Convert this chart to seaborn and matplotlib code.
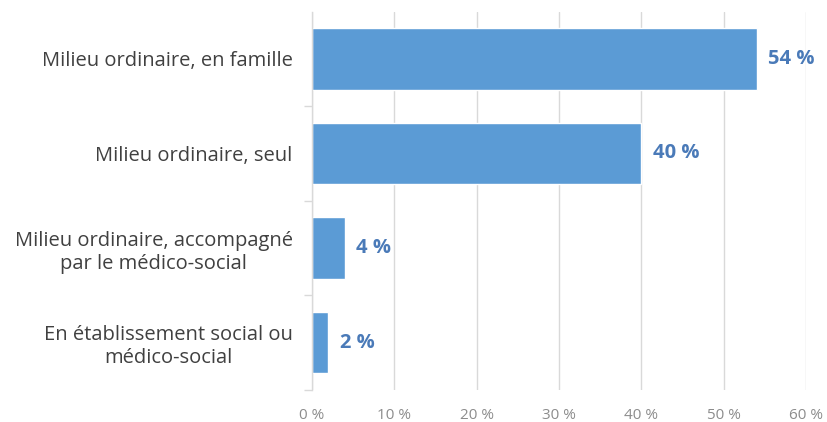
import numpy as np
import pandas as pd
import seaborn as sns
import matplotlib.pyplot as plt

# data

categories = [
    "Milieu ordinaire, en famille",
    "Milieu ordinaire, seul",
    "Milieu ordinaire, accompagné\npar le médico-social",
    "En établissement social ou\nmédico-social",
]
values = [54, 40, 4, 2]
xticks = [0, 10, 20, 30, 40, 50, 60]
xtick_labels = ["0 %", "10 %", "20 %", "30 %", "40 %", "50 %", "60 %"]

df = pd.DataFrame({"cat": categories, "val": values})

sns.set_style("white")
plt.rcParams["font.family"] = ["Open Sans", "DejaVu Sans"]

fig = plt.figure(figsize=(8.27, 4.22), dpi=100)
ax = fig.add_axes([0.3773, 0.0758, 0.5973, 0.8969])

sns.barplot(
    data=df,
    x="val",
    y="cat",
    color="#5b9bd5",
    saturation=1,
    width=0.65,
    ax=ax
)

# grid

ax.set_xlim(0, 60)
ax.set_ylim(3.5, -0.5)
ax.set_xticks(xticks)
ax.set_xticklabels(xtick_labels, color="#8c8c8c", fontsize=11)
ax.xaxis.grid(True, color="#d9d9d9", linewidth=1)
ax.set_axisbelow(True)
ax.tick_params(axis="x", length=0, pad=13)

ax.set_yticks([0, 1, 2, 3])
ax.set_yticklabels(categories, color="#404040", fontsize=14.5)
ax.tick_params(axis="y", length=0, pad=14)
for lab in ax.get_yticklabels():
    lab.set_horizontalalignment("right")
    lab.set_multialignment("center")
    lab.set_linespacing(1.2)

# small separators between categories
ax.set_yticks([0.5, 1.5, 2.5, 3.5], minor=True)
ax.tick_params(axis="y", which="minor", length=6, color="#d9d9d9", width=1, left=True)

for s in ["top", "right", "bottom"]:
    ax.spines[s].set_visible(False)
ax.spines["left"].set_color("#d9d9d9")
ax.spines["left"].set_linewidth(1)

ax.set_xlabel("")
ax.set_ylabel("")

# value labels

for i, v in enumerate(values):
    ax.text(
        v + 1.4,
        i,
        f"{v} %",
        va="center",
        ha="left",
        color="#4a7ab8",
        fontsize=14.5,
        fontweight="bold"
    )

plt.savefig("out.png", dpi=100)
plt.close()
